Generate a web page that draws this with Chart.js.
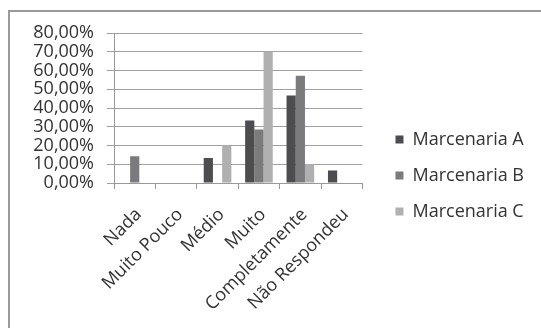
<!DOCTYPE html>
<html>
<head>
<meta charset="utf-8">
<script src="https://cdn.jsdelivr.net/npm/chart.js@4/dist/chart.umd.min.js"></script>
<style>
  html, body { margin: 0; padding: 0; background: #fff; }
  #wrap { width: 541px; height: 328px; }
</style>
</head>
<body>
<div id="wrap"><canvas id="myChart" width="541" height="328"></canvas></div>
<script>
// categorias e valores (%)
const categorias = ['Nada', 'Muito Pouco', 'Médio', 'Muito', 'Completamente', 'Não Respondeu'];
const marcenariaA = [0, 0, 13.33, 33.33, 46.67, 6.67];
const marcenariaB = [14.29, 0, 0, 28.57, 57.14, 0];
const marcenariaC = [0, 0, 20, 70, 10, 0];
const yTicks = [0, 10, 20, 30, 40, 50, 60, 70, 80];

const fonte = "'Open Sans', 'Liberation Sans', sans-serif";

// moldura cinza (cantos superior/esquerdo)
const moldura = {
  id: 'moldura',
  beforeDraw(chart) {
    const ctx = chart.ctx;
    ctx.save();
    ctx.fillStyle = '#fff';
    ctx.fillRect(0, 0, chart.width, chart.height);
    ctx.strokeStyle = '#9a9a9a';
    ctx.lineWidth = 2;
    ctx.strokeRect(9, 11, 700, 500);
    ctx.restore();
  }
};

const data = {
  labels: categorias,
  datasets: [
    { label: 'Marcenaria A', data: marcenariaA, backgroundColor: '#4d4d4f' },
    { label: 'Marcenaria B', data: marcenariaB, backgroundColor: '#7b7b7d' },
    { label: 'Marcenaria C', data: marcenariaC, backgroundColor: '#b0b0b0' }
  ]
};

const config = {
  type: 'bar',
  data: data,
  plugins: [moldura],
  options: {
    responsive: false,
    animation: false,
    layout: { padding: { top: 33, right: 7, bottom: 10, left: 0 } },
    datasets: { bar: { barPercentage: 1, categoryPercentage: 0.667 } },
    plugins: {
      tooltip: { enabled: false },
      legend: {
        position: 'right',
        maxWidth: 250,
        labels: {
          boxWidth: 8, boxHeight: 8, padding: 18,
          color: '#333',
          font: { family: fonte, size: 18 }
        }
      }
    },
    scales: {
      x: {
        afterFit: s => { s.height = 135; },
        grid: { display: true, drawOnChartArea: false, drawTicks: true, tickLength: 6, color: '#999', offset: true },
        border: { color: '#999', width: 1 },
        ticks: {
          minRotation: 45, maxRotation: 45, padding: 15, labelOffset: 4, autoSkip: false,
          color: '#333',
          font: { family: fonte, size: 18 }
        }
      },
      y: {
        min: 0, max: 80,
        afterFit: s => { s.width = 114; },
        afterBuildTicks: s => { s.ticks = yTicks.map(v => ({ value: v })); },
        grid: { color: '#a0a0a0', tickLength: 7 },
        border: { color: '#999', width: 1 },
        ticks: {
          padding: 13, autoSkip: false,
          color: '#333',
          font: { family: fonte, size: 18 },
          callback: v => v.toFixed(2).replace('.', ',') + '%'
        }
      },
      // eixo vazio só para afastar a legenda
      espaco: {
        position: 'right',
        afterFit: s => { s.width = 15; },
        grid: { display: false },
        border: { display: false },
        ticks: { display: false }
      }
    }
  }
};

const myChart = new Chart(document.getElementById('myChart'), config);
</script>
</body>
</html>
